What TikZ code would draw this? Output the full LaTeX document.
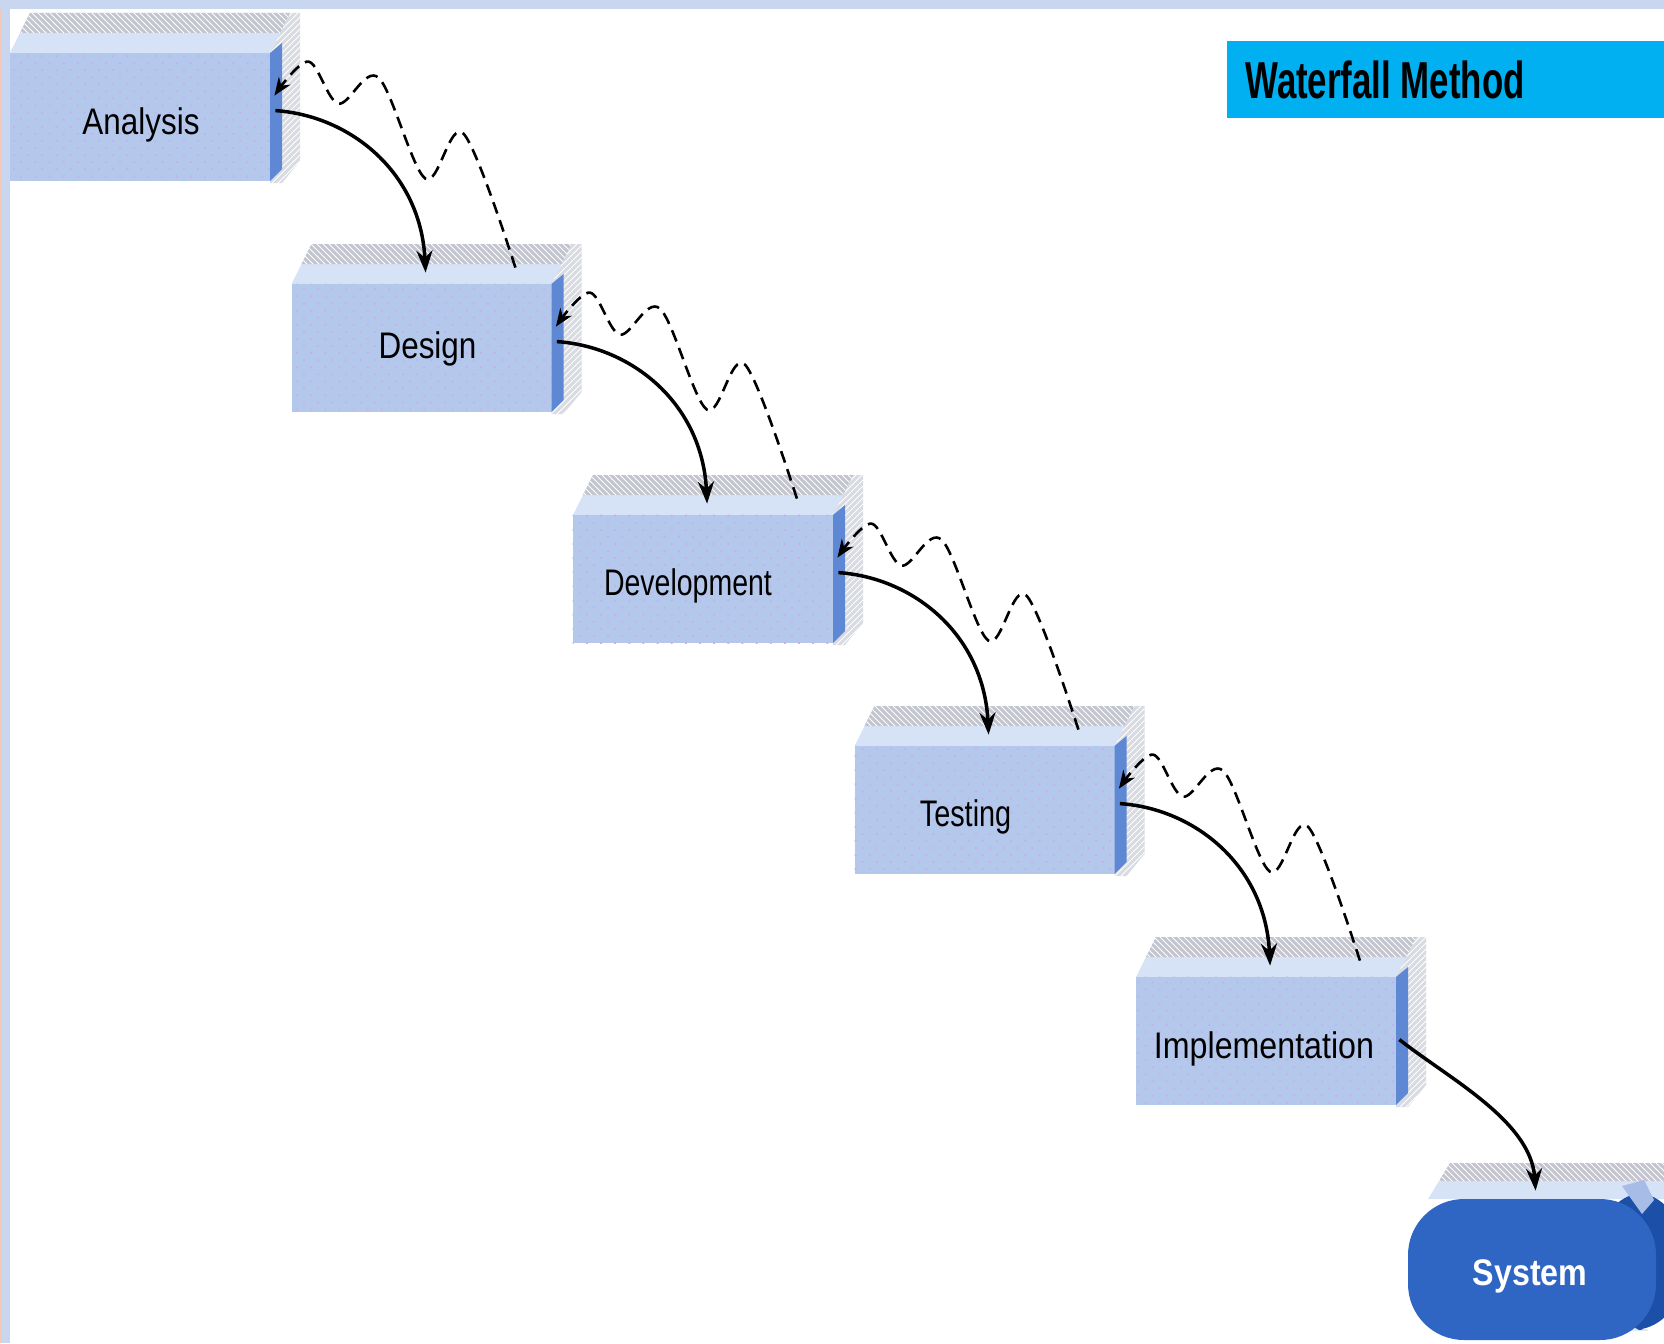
\documentclass[tikz,border=0pt]{standalone}
\usepackage{fontspec}
\setmainfont{Liberation Sans}
\newfontfamily\titlefont{Liberation Sans}[FakeStretch=0.67]
\usetikzlibrary{calc,arrows.meta,patterns,patterns.meta}
\definecolor{frontc}{HTML}{B4C8EC}
\definecolor{dotc}{HTML}{C2B2F2}
\definecolor{topc}{HTML}{D6E3F7}
\definecolor{bandc}{HTML}{C2C4CE}
\definecolor{sidec}{HTML}{5F88D4}
\definecolor{shadec}{HTML}{D9DBE3}
\definecolor{sysc}{HTML}{2F66C4}
\definecolor{sysside}{HTML}{1B4FA8}
\definecolor{titlec}{HTML}{00B0F0}
\definecolor{framec}{HTML}{C8D6F0}
\definecolor{framered}{HTML}{F2C8B8}
\tikzset{
  stepbox/.style={rectangle, fill=frontc, minimum width=130pt, minimum height=64pt, inner sep=0pt},
  steplabel/.style={anchor=base, inner sep=0pt, font=\fontsize{18.5}{20}\selectfont, text=black},
  sysbox/.style={rectangle, rounded corners=28pt, fill=sysc, minimum width=124pt,
    minimum height=70.5pt, inner sep=0pt},
  syslabel/.style={anchor=base, inner sep=0pt, font=\bfseries\fontsize{18.5}{20}\selectfont, text=white},
  flow/.style={line width=1.75pt, -{Stealth[length=11pt,width=8pt]}},
  feedback/.style={line width=1.3pt, dash pattern=on 6pt off 3.5pt, -{Stealth[length=9pt,width=7pt]}},
}
% #1 name, #2 left x, #3 top y, #4 label, #5 horizontal scale, #6 label x offset, #7 baseline offset
\newcommand\wfbox[7]{%
  \fill[shadec] (#2+260,#3) -- (#2+280,#3-40) -- (#2+290,#3-40) -- (#2+290,#3+108) -- (#2+272,#3+130) -- (#2+260,#3+130) -- cycle;
  \fill[pattern=north east lines, pattern color=white] (#2+260,#3) -- (#2+280,#3-40) -- (#2+290,#3-40) -- (#2+290,#3+108) -- (#2+272,#3+130) -- (#2+260,#3+130) -- cycle;
  \fill[topc] (#2,#3) -- (#2+20,#3-40) -- (#2+280,#3-40) -- (#2+260,#3) -- cycle;
  \fill[bandc] (#2+10,#3-20) -- (#2+20,#3-40) -- (#2+280,#3-40) -- (#2+270,#3-20) -- cycle;
  \fill[pattern=north west lines, pattern color=white] (#2+10,#3-20) -- (#2+20,#3-40) -- (#2+280,#3-40) -- (#2+270,#3-20) -- cycle;
  \node[stepbox] (#1) at (#2+130,#3+64) {};
  \fill[pattern={Dots[distance=5pt, radius=0.7pt, angle=45]}, pattern color=dotc] (#1.south west) rectangle (#1.north east);
  \node[steplabel] (#1-t) at (#2+130+#6,#3+#7) {\scalebox{#5}[1]{#4}};
  \fill[sidec] (#2+260,#3) -- (#2+272,#3-10) -- (#2+272,#3+116) -- (#2+260,#3+128) -- cycle;
}
\newcommand\wfflow[2]{%
  \draw[flow] ($(#1.north east)+(5,58)$) .. controls ($(#1.north east)+(80,63)$) and ($(#2.north west)+(129.5,-111)$) .. ($(#2.north west)+(134.5,-11)$);
}
\newcommand\wffeed[1]{%
  \begin{scope}[shift={(#1.north east)}]
    \draw[feedback] plot[smooth, tension=0.55] coordinates {(245,215) (193,81) (155,126) (108,25) (68,51) (38,9) (4,43)};
  \end{scope}
}
\begin{document}
\begin{tikzpicture}[x=0.5pt, y=-0.5pt]
\useasboundingbox (0,0) rectangle (1664,1343);
\clip (0,0) rectangle (1664,1343);
\fill[white] (0,0) rectangle (1664,1343);
% frame
\fill[framec] (0,0) rectangle (1664,9);
\fill[framec] (0,0) rectangle (10,1343);
\fill[framered] (0,9) rectangle (2,1343);
% title
\node[anchor=north west, fill=titlec, minimum width=218.5pt, minimum height=38.5pt, inner sep=0pt] (titlebox) at (1227,41) {};
\node[anchor=base west, inner sep=0pt, font=\titlefont\bfseries\fontsize{26}{28}\selectfont, text=black] (title) at (1245,98) {Waterfall Method};
% boxes
\wfbox{an}{10}{53}{Analysis}{0.85}{1}{81}
\wfbox{de}{291.5}{284}{Design}{0.85}{6}{74}
\wfbox{dv}{573}{515}{Development}{0.77}{-15}{80}
\wfbox{te}{854.5}{746}{Testing}{0.78}{-19}{80}
\wfbox{im}{1136}{977}{Implementation}{0.87}{-2}{81}
% system
\fill[topc] (1428,1199) -- (1450,1163) -- (1664,1163) -- (1664,1199) -- cycle;
\fill[bandc] (1439,1181) -- (1450,1163) -- (1664,1163) -- (1664,1181) -- cycle;
\fill[pattern=north west lines, pattern color=white] (1439,1181) -- (1450,1163) -- (1664,1163) -- (1664,1181) -- cycle;
\fill[sysside, rounded corners=24pt] (1600,1192) rectangle (1680,1330);
\fill[sidec!55] (1622,1186) -- (1644,1180) -- (1654,1200) -- (1642,1214) -- cycle;
\node[sysbox] (sys) at (1532,1269.5) {};
\node[syslabel] (sys-t) at (1530,1285) {\scalebox{0.87}[1]{System}};
% connectors
\wfflow{an}{de}
\wfflow{de}{dv}
\wfflow{dv}{te}
\wfflow{te}{im}
\draw[flow] ($(im.north east)+(3,63)$) .. controls ($(im.north east)+(51,101)$) and ($(sys.north west)+(123,-78)$) .. ($(sys.north west)+(128,-8)$);
\wffeed{an}
\wffeed{de}
\wffeed{dv}
\wffeed{te}
\end{tikzpicture}
\end{document}
